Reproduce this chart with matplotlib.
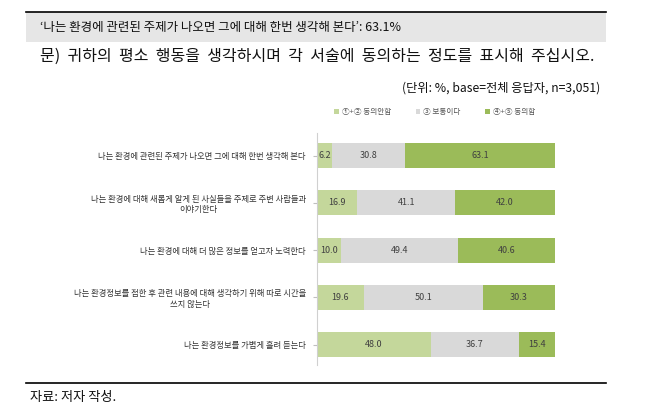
import numpy as np
import matplotlib
matplotlib.use('Agg')
import matplotlib.pyplot as plt
from matplotlib.patches import Rectangle
from matplotlib.lines import Line2D

plt.rcParams['font.family'] = ['Noto Sans CJK KR', 'DejaVu Sans']

# Dados
itens = [
    '나는 환경에 관련된 주제가 나오면 그에 대해 한번 생각해 본다',
    '나는 환경에 대해 새롭게 알게 된 사실들을 주제로 주변 사람들과\n이야기한다',
    '나는 환경에 대해 더 많은 정보를 얻고자 노력한다',
    '나는 환경정보를 접한 후 관련 내용에 대해 생각하기 위해 따로 시간을\n쓰지 않는다',
    '나는 환경정보를 가볍게 흘려 듣는다',
]
series_names = ['①+② 동의안함', '③ 보통이다', '④+⑤ 동의함']
nao_concorda = [6.2, 16.9, 10.0, 19.6, 48.0]
neutro = [30.8, 41.1, 49.4, 50.1, 36.7]
concorda = [63.1, 42.0, 40.6, 30.3, 15.4]

cores = ['#C4D79B', '#D9D9D9', '#9BBB59']

fig = plt.figure(figsize=(6.48, 4.12), dpi=100)

# Cabeçalho
fig.patches.append(Rectangle((26/648, 1-42/412), 580/648, 30/412, transform=fig.transFigure,
                             facecolor='#E6E6E6', edgecolor='none', zorder=0))
fig.lines.append(Line2D([26/648, 606/648], [1-12/412, 1-12/412], transform=fig.transFigure,
                        color='black', lw=1.2))
fig.text(40/648, 1-27/412, '‘나는 환경에 관련된 주제가 나오면 그에 대해 한번 생각해 본다’: 63.1%',
         fontsize=9.0, va='center', ha='left', color='#111111')
fig.text(40/648, 1-56/412, '문)  귀하의  평소  행동을  생각하시며  각  서술에  동의하는  정도를  표시해  주십시오.',
         fontsize=11.5, va='center', ha='left', color='#111111')
fig.text(600/648, 1-88/412, '(단위: %, base=전체 응답자, n=3,051)',
         fontsize=8.8, va='center', ha='right', color='#111111')

# Rodapé
fig.lines.append(Line2D([26/648, 606/648], [1-383/412, 1-383/412], transform=fig.transFigure,
                        color='black', lw=1.2))
fig.text(30/648, 1-398/412, '자료: 저자 작성.', fontsize=9.5, va='center', ha='left', color='#111111')

# Gráfico
ax = fig.add_axes([317/648, 1-365/412, 238/648, 232/412])
y = np.arange(len(itens))
esq = np.zeros(len(itens))
for nome, vals, cor in zip(series_names, [nao_concorda, neutro, concorda], cores):
    vals = np.array(vals)
    ax.barh(y, vals, left=esq, height=0.53, color=cor, edgecolor='none', label=nome)
    for yi, l, v in zip(y, esq, vals):
        ax.text(l + v/2, yi, f'{v:.1f}', ha='center', va='center', fontsize=6.5, color='#404040')
    esq += vals

ax.set_xlim(0, 100)
ax.set_ylim(4.43, -0.476)
ax.set_yticks(y)
ax.set_yticklabels(itens, fontsize=6, color='#333333', multialignment='center')
ax.tick_params(axis='y', length=3, color='#BFBFBF', pad=5)
ax.set_xticks([])
for s in ['top', 'right', 'bottom']:
    ax.spines[s].set_visible(False)
ax.spines['left'].set_color('#D0D0D0')

ax.legend(loc='lower left', bbox_to_anchor=(0.06, 1.06), ncol=3, frameon=False, fontsize=5.5,
          handlelength=0.6, handleheight=0.6, columnspacing=3.2, handletextpad=0.4,
          labelcolor='#555555', borderaxespad=0)

fig.savefig('out.png', dpi=100)
